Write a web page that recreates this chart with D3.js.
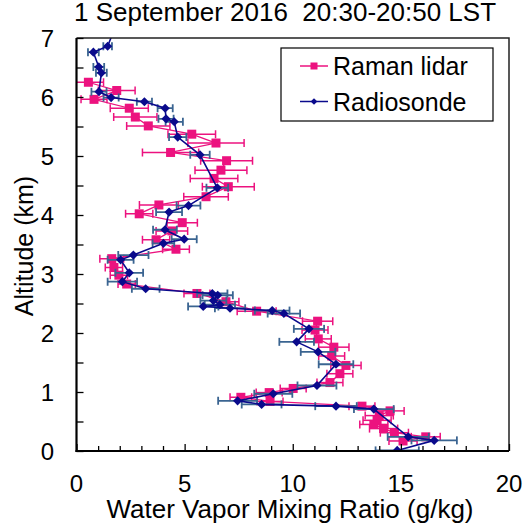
<!doctype html>
<html lang="en">
<head>
    <meta charset="utf-8">
    <title>Water vapor profile</title>
    <script src="https://d3js.org/d3.v7.min.js"></script>
    <style>
        body { margin: 0; padding: 0; background: white; }
        svg { display: block; }
        text { font-family: 'Liberation Sans', Arial, sans-serif; fill: black; }
    </style>
</head>
<body>
    <div class="chart"></div>
    <script>
        // Raman lidar profile: altitude (km), mixing ratio (g/kg), error (g/kg)
        const lidarAlt = [6.25, 6.11, 5.96, 5.81, 5.66, 5.51, 5.37, 5.22, 5.06, 4.92, 4.76, 4.62, 4.48, 4.31, 4.17, 4.02,
                          3.87, 3.73, 3.58, 3.42, 3.26, 3.11, 2.98, 2.83, 2.67, 2.53, 2.37, 2.20, 2.05, 1.90, 1.76, 1.61,
                          1.45, 1.31, 1.16, 1.06, 0.99, 0.91, 0.84, 0.76, 0.68, 0.60, 0.52, 0.45, 0.38, 0.31, 0.24, 0.17];
        const lidarVal = [0.55, 1.86, 0.81, 2.44, 2.72, 3.32, 5.33, 6.45, 4.35, 6.94, 6.68, 6.36, 7.02, 5.99, 3.81, 2.90,
                          4.89, 4.41, 3.68, 4.60, 1.63, 1.73, 1.96, 2.32, 5.57, 6.91, 8.33, 11.15, 11.03, 11.18, 11.90, 11.80,
                          12.46, 12.18, 11.72, 10.02, 8.91, 7.60, 8.95, 13.20, 14.50, 14.00, 13.90, 13.75, 14.20, 14.70, 16.15, 15.10];
        const lidarErr = [0.70, 0.85, 0.60, 0.88, 1.00, 1.00, 1.10, 1.30, 1.30, 1.20, 1.20, 1.10, 1.20, 1.03, 0.90, 0.63,
                          0.70, 0.73, 0.63, 0.62, 0.55, 0.40, 0.40, 0.40, 0.60, 0.60, 0.90, 0.70, 0.60, 0.60, 0.70, 0.60,
                          0.70, 0.60, 0.60, 0.60, 0.60, 0.50, 0.60, 0.60, 0.65, 0.65, 0.65, 0.65, 0.65, 0.65, 0.67, 0.65];

        // Radiosonde profile
        const sondeAlt = [0.01, 0.18, 0.24, 0.71, 0.76, 0.79, 0.85, 0.97, 1.11, 1.47, 1.68, 1.85, 2.07, 2.33, 2.38, 2.42,
                          2.45, 2.48, 2.55, 2.64, 2.67, 2.75, 2.87, 3.02, 3.24, 3.32, 3.52, 3.59, 3.75, 4.05, 4.16, 4.46,
                          5.02, 5.32, 5.58, 5.63, 5.81, 5.92, 5.99, 6.09, 6.41, 6.51, 6.76, 6.86, 7.10];
        const sondeVal = [14.83, 16.54, 15.34, 13.75, 12.00, 8.56, 7.45, 9.10, 11.12, 12.00, 11.17, 10.18, 10.75, 9.59, 9.05, 7.10,
                          5.86, 6.63, 6.33, 6.53, 6.28, 3.20, 2.12, 2.44, 2.04, 2.63, 4.02, 4.98, 4.09, 4.28, 5.18, 6.51,
                          5.71, 4.68, 4.52, 4.14, 4.10, 3.14, 1.60, 1.04, 1.15, 1.03, 0.78, 1.44, 1.70];
        const sondeErr = [1.00, 1.05, 0.95, 0.92, 0.96, 0.92, 0.90, 0.88, 0.90, 0.80, 0.80, 0.80, 0.70, 0.75, 0.80, 0.70,
                          0.70, 0.70, 0.60, 0.70, 0.70, 0.64, 0.68, 0.64, 0.60, 0.70, 0.50, 0.58, 0.55, 0.60, 0.55, 0.50,
                          0.45, 0.40, 0.40, 0.35, 0.35, 0.35, 0.35, 0.35, 0.25, 0.25, 0.25, 0.20, 0.20];

        const xTicks = [0, 5, 10, 15, 20];
        const yTicks = [0, 1, 2, 3, 4, 5, 6, 7];

        const titleText = "1 September 2016\u00a0\u00a020:30-20:50 LST";
        const seriesNames = ["Raman lidar", "Radiosonde"];

        // colours
        const pink = "#ec127f";
        const navy = "#0a0a8c";
        const steel = "#3a6491";

        // window size and plot frame (plotTop, not "top": window.top is read-only)
        var width = 528;
        var height = 526;
        var plotLeft = 76.5, plotRight = 509, plotTop = 38, plotBottom = 451;

        const svg = d3.select(".chart").append("svg")
            .attr("width", width)
            .attr("height", height);

        const x = d3.scaleLinear().domain([0, 20]).range([plotLeft, plotRight]);
        const y = d3.scaleLinear().domain([0, 7]).range([plotBottom, plotTop]);

        const lidar = lidarAlt.map((a, i) => ({alt: a, val: lidarVal[i], err: lidarErr[i]}));
        const sonde = sondeAlt.map((a, i) => ({alt: a, val: sondeVal[i], err: sondeErr[i]}));

        // clip everything to the plot area
        svg.append("clipPath").attr("id", "plotclip")
            .append("rect")
            .attr("x", plotLeft).attr("y", plotTop)
            .attr("width", plotRight - plotLeft).attr("height", plotBottom - plotTop);

        const plot = svg.append("g").attr("clip-path", "url(#plotclip)");

        // horizontal error bars with caps
        function errorBars(g, data, colour, w) {
            const eb = g.append("g").attr("stroke", colour).attr("stroke-width", w);
            eb.selectAll("line.bar").data(data).enter().append("line")
                .attr("class", "bar")
                .attr("x1", d => x(d.val - d.err)).attr("x2", d => x(d.val + d.err))
                .attr("y1", d => y(d.alt)).attr("y2", d => y(d.alt));
            eb.selectAll("line.capl").data(data).enter().append("line")
                .attr("class", "capl")
                .attr("x1", d => x(d.val - d.err)).attr("x2", d => x(d.val - d.err))
                .attr("y1", d => y(d.alt) - 4).attr("y2", d => y(d.alt) + 4);
            eb.selectAll("line.capr").data(data).enter().append("line")
                .attr("class", "capr")
                .attr("x1", d => x(d.val + d.err)).attr("x2", d => x(d.val + d.err))
                .attr("y1", d => y(d.alt) - 4).attr("y2", d => y(d.alt) + 4);
        }

        const line = d3.line().x(d => x(d.val)).y(d => y(d.alt));

        // lidar series
        errorBars(plot, lidar, pink, 1.5);
        plot.append("path").datum(lidar)
            .attr("d", line)
            .attr("fill", "none")
            .attr("stroke", pink)
            .attr("stroke-width", 1.3);
        plot.selectAll("rect.lidar").data(lidar).enter().append("rect")
            .attr("class", "lidar")
            .attr("x", d => x(d.val) - 4.5).attr("y", d => y(d.alt) - 4.5)
            .attr("width", 9).attr("height", 9)
            .attr("fill", pink);

        // radiosonde series
        errorBars(plot, sonde, steel, 1.8);
        plot.append("path").datum(sonde)
            .attr("d", line)
            .attr("fill", "none")
            .attr("stroke", navy)
            .attr("stroke-width", 1.6);
        const diamond = d3.symbol().type(d3.symbolSquare).size(42);
        plot.selectAll("path.sonde").data(sonde).enter().append("path")
            .attr("class", "sonde")
            .attr("d", diamond)
            .attr("transform", d => "translate(" + x(d.val) + "," + y(d.alt) + ") rotate(45)")
            .attr("fill", navy);

        // frame (top and right)
        svg.append("path")
            .attr("d", "M" + plotLeft + "," + plotTop + "H" + plotRight + "V" + plotBottom)
            .attr("fill", "none")
            .attr("stroke", "#222")
            .attr("stroke-width", 1.5);

        // x axis, ticks pointing inwards
        const xAxis = svg.append("g").attr("transform", "translate(0," + plotBottom + ")");
        xAxis.call(d3.axisBottom(x).tickValues(d3.range(0, 21, 1)).tickSize(-5).tickFormat(""))
            .call(g => g.select(".domain").remove());
        xAxis.selectAll(".tick line")
            .attr("stroke-width", 1.3)
            .attr("y2", d => d % 5 === 0 ? -7 : -5);
        xAxis.selectAll("text.lab").data(xTicks).enter().append("text")
            .attr("class", "lab")
            .attr("x", d => x(d)).attr("y", 41)
            .attr("text-anchor", "middle")
            .style("font-size", "24px")
            .text(d => d);
        xAxis.append("line")
            .attr("x1", plotLeft - 1).attr("x2", plotRight)
            .attr("stroke", "black").attr("stroke-width", 2.2);

        // y axis
        const yAxis = svg.append("g").attr("transform", "translate(" + plotLeft + ",0)");
        yAxis.call(d3.axisLeft(y).tickValues(d3.range(0, 7.01, 0.5)).tickSize(-7).tickFormat(""))
            .call(g => g.select(".domain").remove());
        yAxis.selectAll(".tick line").attr("stroke-width", 1.3);
        yAxis.selectAll("text.lab").data(yTicks).enter().append("text")
            .attr("class", "lab")
            .attr("x", -29).attr("y", d => y(d) + 8.5)
            .attr("text-anchor", "middle")
            .style("font-size", "24px")
            .text(d => d);
        yAxis.append("line")
            .attr("y1", plotTop).attr("y2", plotBottom + 1)
            .attr("stroke", "black").attr("stroke-width", 2.2);

        // titles
        svg.append("text")
            .attr("x", 285).attr("y", 21)
            .attr("text-anchor", "middle")
            .style("font-size", "26px")
            .text(titleText);
        svg.append("text")
            .attr("x", 290).attr("y", 518)
            .attr("text-anchor", "middle")
            .style("font-size", "26px")
            .text("Water Vapor Mixing Ratio (g/kg)");
        svg.append("text")
            .attr("transform", "translate(33,246) rotate(-90)")
            .attr("text-anchor", "middle")
            .style("font-size", "25px")
            .text("Altitude (km)");

        // legend
        const legend = svg.append("g");
        legend.append("rect")
            .attr("x", 281).attr("y", 48)
            .attr("width", 212).attr("height", 73)
            .attr("fill", "white")
            .attr("stroke", "black")
            .attr("stroke-width", 1.2);
        const entries = legend.selectAll("g.entry").data(seriesNames).enter().append("g")
            .attr("class", "entry")
            .attr("transform", (d, i) => "translate(0," + (66 + i * 35.5) + ")");
        entries.append("line")
            .attr("x1", 300).attr("x2", 328)
            .attr("stroke", (d, i) => i === 0 ? pink : navy)
            .attr("stroke-width", 1.5);
        entries.filter((d, i) => i === 0).append("rect")
            .attr("x", 310.5).attr("y", -3.5).attr("width", 7).attr("height", 7)
            .attr("fill", pink);
        entries.filter((d, i) => i === 1).append("path")
            .attr("d", d3.symbol().type(d3.symbolSquare).size(22))
            .attr("transform", "translate(314,0) rotate(45)")
            .attr("fill", navy);
        entries.append("text")
            .attr("x", 333).attr("y", 9)
            .style("font-size", "25px")
            .text(d => d);
    </script>
</body>
</html>
